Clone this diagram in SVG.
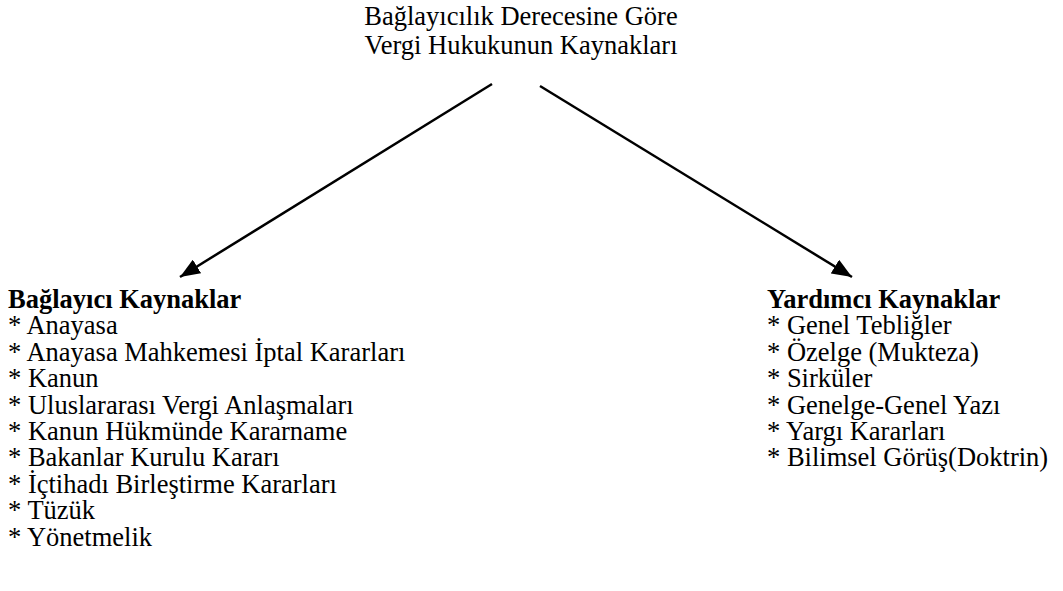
<svg xmlns="http://www.w3.org/2000/svg" width="1063" height="591" viewBox="0 0 1063 591">
<style>
text{font-family:'Liberation Serif','Times New Roman',Times,serif;font-size:26.5px;fill:#000}
.b{font-weight:bold}
.c{stroke:#000;stroke-width:2.5;fill:none}
</style>
<defs>
<marker id="a" viewBox="0 0 20 16" refX="20" refY="8" markerWidth="20" markerHeight="16" orient="auto" markerUnits="userSpaceOnUse">
<path d="M0,0 L20,8 L0,16 z" fill="#000"/>
</marker>
</defs>
<rect width="1063" height="591" fill="#fff"/>
<g id="title">
<text x="521" y="25" text-anchor="middle">Bağlayıcılık Derecesine Göre</text>
<text x="521" y="54" text-anchor="middle">Vergi Hukukunun Kaynakları</text>
</g>
<g id="connectors">
<line class="c" x1="492" y1="84" x2="180" y2="277" marker-end="url(#a)"/>
<line class="c" x1="540" y1="86" x2="852" y2="277" marker-end="url(#a)"/>
</g>
<g id="baglayici">
<text class="b" x="8" y="308">Bağlayıcı Kaynaklar</text>
<text x="8" y="334.4">* Anayasa</text>
<text x="8" y="360.8">* Anayasa Mahkemesi İptal Kararları</text>
<text x="8" y="387.2">* Kanun</text>
<text x="8" y="413.6">* Uluslararası Vergi Anlaşmaları</text>
<text x="8" y="440">* Kanun Hükmünde Kararname</text>
<text x="8" y="466.4">* Bakanlar Kurulu Kararı</text>
<text x="8" y="492.8">* İçtihadı Birleştirme Kararları</text>
<text x="8" y="519.2">* Tüzük</text>
<text x="8" y="545.6">* Yönetmelik</text>
</g>
<g id="yardimci">
<text class="b" x="767" y="308">Yardımcı Kaynaklar</text>
<text x="767" y="334.4">* Genel Tebliğler</text>
<text x="767" y="360.8">* Özelge (Mukteza)</text>
<text x="767" y="387.2">* Sirküler</text>
<text x="767" y="413.6">* Genelge-Genel Yazı</text>
<text x="767" y="440">* Yargı Kararları</text>
<text x="767" y="466.4">* Bilimsel Görüş(Doktrin)</text>
</g>
</svg>
